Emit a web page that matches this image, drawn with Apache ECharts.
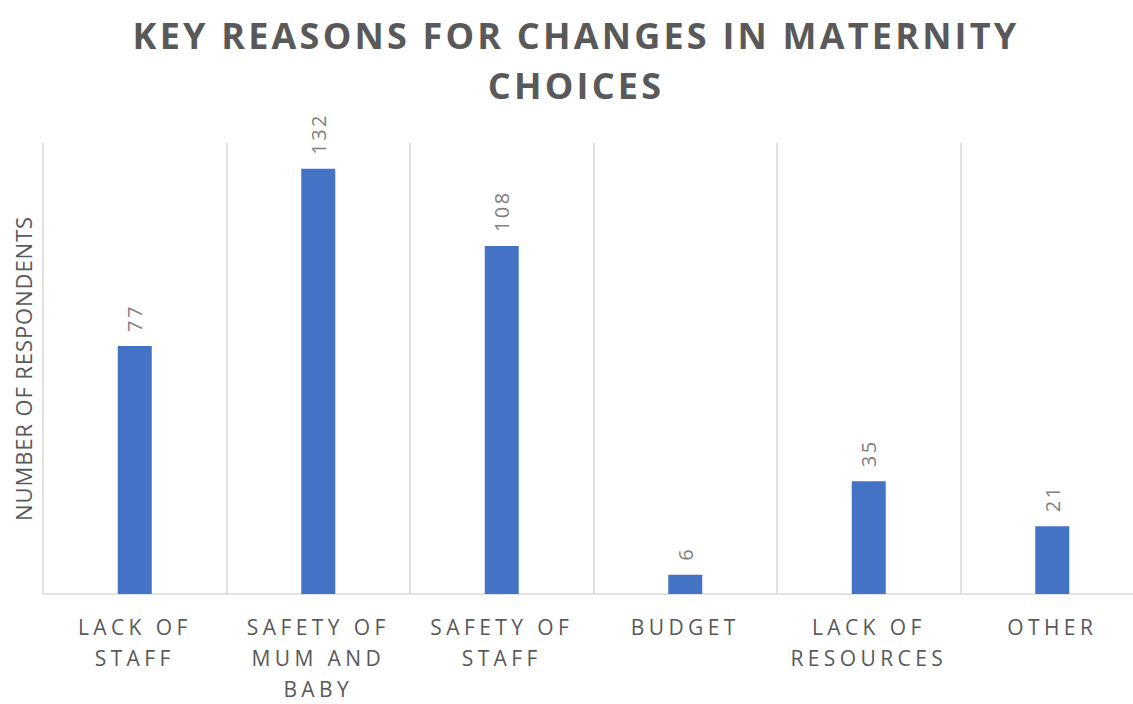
<!DOCTYPE html>
<html>
<head>
<meta charset="utf-8">
<script src="https://cdn.jsdelivr.net/npm/echarts@6/dist/echarts.min.js"></script>
<style>
html,body{margin:0;padding:0;background:#fff;}
#chart{width:1133px;height:704px;}
</style>
</head>
<body>
<div id="chart"></div>
<script>
const titleLines = ['KEY REASONS FOR CHANGES IN MATERNITY', 'CHOICES'];
const categories = ['LACK OF\nSTAFF', 'SAFETY OF\nMUM AND\nBABY', 'SAFETY OF\nSTAFF', 'BUDGET', 'LACK OF\nRESOURCES', 'OTHER'];
const values = [77, 132, 108, 6, 35, 21];
const yAxisName = 'NUMBER OF RESPONDENTS';
const yMin = 0;
const yMax = 140;

const chart = echarts.init(document.getElementById('chart'), null, {renderer: 'svg'});
const FONT = '"Open Sans", "Noto Sans", sans-serif';

chart.setOption({
  animation: false,
  backgroundColor: '#ffffff',
  title: {
    text: titleLines.join('\n'),
    left: 576,
    textAlign: 'center',
    top: 10,
    padding: 0,
    textStyle: {
      fontFamily: FONT,
      fontWeight: 'bold',
      fontSize: 36,
      lineHeight: 50,
      color: '#595959'
    }
  },
  grid: {
    left: 43,
    width: 1101,
    top: 143,
    bottom: 110,
    containLabel: false,
    outerBoundsMode: 'none'
  },
  xAxis: {
    type: 'category',
    data: categories,
    boundaryGap: true,
    axisLine: {show: true, lineStyle: {color: '#d9d9d9', width: 1.5}},
    axisTick: {show: false},
    splitLine: {show: true, lineStyle: {color: '#d9d9d9', width: 1.5}},
    axisLabel: {
      interval: 0,
      margin: 17,
      fontFamily: FONT,
      fontSize: 21,
      lineHeight: 31,
      color: '#595959'
    }
  },
  yAxis: {
    type: 'value',
    min: yMin,
    max: yMax,
    name: yAxisName,
    nameLocation: 'middle',
    nameGap: 9,
    nameTextStyle: {
      fontFamily: FONT,
      fontSize: 22,
      color: '#595959'
    },
    axisLine: {show: false},
    axisTick: {show: false},
    axisLabel: {show: false},
    splitLine: {show: false}
  },
  series: [{
    type: 'bar',
    data: values,
    barWidth: 34,
    itemStyle: {color: '#4472C4'},
    label: {
      show: true,
      position: 'top',
      rotate: 90,
      align: 'left',
      verticalAlign: 'middle',
      distance: 14,
      fontFamily: FONT,
      fontSize: 20,
      color: '#7f7f7f'
    }
  }]
});

function applySpacing() {
  const svg = document.querySelector('#chart svg');
  if (!svg) return;
  const texts = svg.querySelectorAll('text');
  const catWords = new Set();
  categories.forEach(c => c.split('\n').forEach(l => catWords.add(l)));
  texts.forEach(t => {
    const s = (t.textContent || '').trim();
    let sp = null;
    if (titleLines.includes(s)) sp = '3.2px';
    else if (catWords.has(s)) sp = '4.4px';
    else if (s === yAxisName) sp = '0.9px';
    else if (/^\d+$/.test(s)) sp = '2.5px';
    if (sp) t.setAttribute('letter-spacing', sp);
  });
}
chart.on('finished', applySpacing);
applySpacing();
setTimeout(applySpacing, 50);
requestAnimationFrame(applySpacing);
</script>
</body>
</html>
